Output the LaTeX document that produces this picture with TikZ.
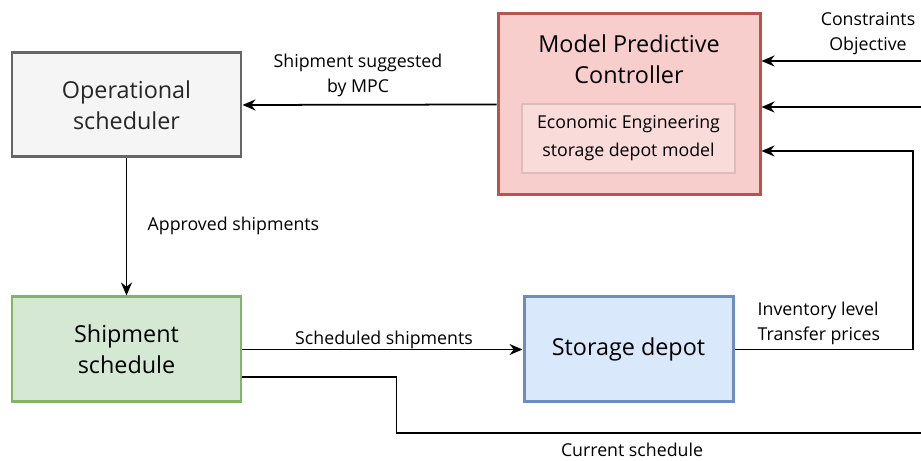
\documentclass[tikz,border=0pt]{standalone}
\usepackage{fontspec}
\setmainfont{Open Sans}
\usetikzlibrary{arrows.meta}
\definecolor{opsfill}{HTML}{F5F5F5}
\definecolor{opsline}{HTML}{666666}
\definecolor{mpcfill}{HTML}{F8CECC}
\definecolor{mpcline}{HTML}{B85450}
\definecolor{modfill}{HTML}{F9DCDA}
\definecolor{modline}{HTML}{DDBDBB}
\definecolor{schfill}{HTML}{D5E8D4}
\definecolor{schline}{HTML}{82B366}
\definecolor{depfill}{HTML}{DAE8FC}
\definecolor{depline}{HTML}{6C8EBF}

\begin{document}
\begin{tikzpicture}[line width=1pt,>={Stealth[length=2.6mm,width=2.2mm]},
  blk/.style={draw,line width=1.7pt,minimum width=4.58cm,minimum height=2.08cm,
    align=center,font=\fontsize{13.3}{17.5}\selectfont},
  lbl/.style={font=\fontsize{10.1}{14.2}\selectfont,align=center}]
\useasboundingbox (0,0) rectangle (18.42,9.22);
% ================= blocks =================
\node[blk,fill=opsfill,draw=opsline,text=black!85] (ops) at (2.53,7.12)
  {Operational\\scheduler};
\node[blk,fill=mpcfill,draw=mpcline,minimum width=5.24cm,minimum height=3.62cm] (mpc)
  at (12.58,7.13) {};
\node[font=\fontsize{13.3}{17.5}\selectfont,align=center] (mpctitle) at (12.58,8.03)
  {Model Predictive\\Controller};
\node[draw=modline,fill=modfill,line width=0.7pt,minimum width=4.26cm,minimum height=1.38cm,
  align=center,font=\fontsize{10.1}{16}\selectfont] (model) at (12.57,6.45)
  {Economic Engineering\\storage depot model};
\node[blk,fill=schfill,draw=schline,minimum height=2.1cm] (sched) at (2.53,2.23)
  {Shipment\\schedule};
\node[blk,fill=depfill,draw=depline,minimum width=4.18cm,minimum height=2.1cm] (depot)
  at (12.57,2.23) {Storage depot};
% free ends at the right border
\coordinate (cin) at (18.42,8.0);
\coordinate (oin) at (18.42,7.08);
\coordinate (fb) at (18.26,6.20);
\coordinate (cur) at (18.42,0.56);
% ================= connectors =================
\draw[->] (mpc.west) -- (ops.east);
\draw[->] (ops.south) -- (sched.north);
\draw[->] (sched.east) -- (depot.west);
\draw ([yshift=-0.55cm]sched.east) -- ++(3.08,0) |- (cur);
\draw[->] (depot.east) -| (fb) -- (fb -| mpc.east);
\draw[->] (cin) -- (cin -| mpc.east);
\draw[->] (oin) -- (oin -| mpc.east);
% ================= labels =================
\node[lbl] (lsug) at (7.16,7.71) {Shipment suggested\\by MPC};
\node[lbl,anchor=west] (lapp) at (2.82,4.70) {Approved shipments};
\node[lbl] (lsch) at (7.68,2.43) {Scheduled shipments};
\node[lbl,align=left,anchor=west] (linv) at (15.02,2.75) {Inventory level\\Transfer prices};
\node[lbl] (lcon) at (17.36,8.54) {Constraints\\Objective};
\node[lbl] (lcur) at (12.64,0.22) {Current schedule};
\end{tikzpicture}
\end{document}
